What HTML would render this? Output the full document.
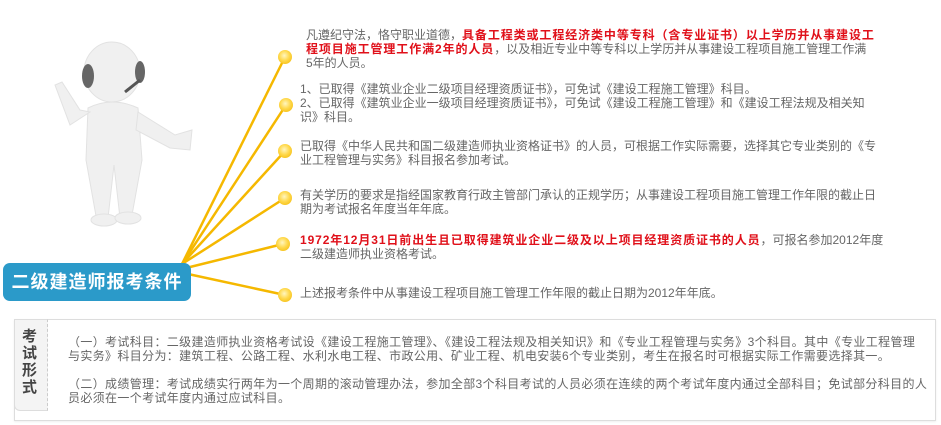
<!DOCTYPE html>
<html><head><meta charset="utf-8"><style>
body{margin:0;width:941px;height:425px;background:#fff;position:relative;overflow:hidden;font-family:"Liberation Sans","Noto Sans CJK SC",sans-serif;}
.t{position:absolute;font-size:12px;line-height:14px;color:#666;white-space:nowrap;letter-spacing:0;}
.r{color:#e0101a;font-weight:bold;letter-spacing:0.9px;}
.dot{position:absolute;width:14px;height:14px;border-radius:50%;background:radial-gradient(circle at 45% 40%,#fff6c0 0,#ffd84a 45%,#f0b400 100%);}
</style></head><body>
<svg width="941" height="425" style="position:absolute;left:0;top:0">
<g fill="#f0f0f0" stroke="#e2e2e2">
<ellipse cx="112" cy="72" rx="28" ry="30"/>
<path d="M88 108 Q112 96 138 108 L142 160 L132 215 L120 218 L114 165 L108 218 L96 216 L86 160 Z"/>
<path d="M90 112 L70 125 L55 85 L62 82 L80 110 Z"/>
<path d="M138 112 L175 135 L192 130 L190 150 L170 148 L136 130 Z"/>
<ellipse cx="104" cy="220" rx="13" ry="6"/><ellipse cx="128" cy="218" rx="13" ry="6"/>
</g>
<ellipse cx="88" cy="76" rx="6" ry="12" fill="#666"/><ellipse cx="140" cy="72" rx="5" ry="11" fill="#666"/>
<path d="M140 80 L125 92" stroke="#555" stroke-width="3"/>
<g stroke="#f5b800" stroke-width="2.5" fill="none">
<line x1="182" y1="264" x2="285" y2="57"/>
<line x1="182" y1="264" x2="286" y2="105"/>
<line x1="182" y1="264" x2="285" y2="151"/>
<line x1="182" y1="264" x2="285" y2="198"/>
<line x1="186" y1="268" x2="283" y2="244"/>
<line x1="188" y1="274" x2="285" y2="295"/>
</g>
</svg>
<div class="dot" style="left:278px;top:50px"></div>
<div class="dot" style="left:279px;top:98px"></div>
<div class="dot" style="left:278px;top:144px"></div>
<div class="dot" style="left:278px;top:191px"></div>
<div class="dot" style="left:276px;top:237px"></div>
<div class="dot" style="left:278px;top:288px"></div>
<div style="position:absolute;left:3px;top:263px;width:188px;height:38px;background:#2b9ac9;border-radius:7px;color:#fff;font-size:18px;font-weight:bold;line-height:38px;text-align:center;letter-spacing:1px">二级建造师报考条件</div>

<div class="t" style="left:306px;top:28px">凡遵纪守法，恪守职业道德，<span class="r">具备工程类或工程经济类中等专科（含专业证书）以上学历并从事建设工<br>程项目施工管理工作满2年的人员</span>，以及相近专业中等专科以上学历并从事建设工程项目施工管理工作满<br>5年的人员。</div>
<div class="t" style="left:300px;top:82px">1、已取得《建筑业企业二级项目经理资质证书》，可免试《建设工程施工管理》科目。<br>2、已取得《建筑业企业一级项目经理资质证书》，可免试《建设工程施工管理》和《建设工程法规及相关知<br>识》科目。</div>
<div class="t" style="left:300px;top:139px">已取得《中华人民共和国二级建造师执业资格证书》的人员，可根据工作实际需要，选择其它专业类别的《专<br>业工程管理与实务》科目报名参加考试。</div>
<div class="t" style="left:300px;top:188px">有关学历的要求是指经国家教育行政主管部门承认的正规学历；从事建设工程项目施工管理工作年限的截止日<br>期为考试报名年度当年年底。</div>
<div class="t" style="left:300px;top:233px"><span class="r">1972年12月31日前出生且已取得建筑业企业二级及以上项目经理资质证书的人员</span>，可报名参加2012年度<br>二级建造师执业资格考试。</div>
<div class="t" style="left:300px;top:286px">上述报考条件中从事建设工程项目施工管理工作年限的截止日期为2012年年底。</div>

<div style="position:absolute;left:14px;top:319px;width:920px;height:100px;border:1px solid #ddd;background:#fff;box-shadow:0 1px 2px #eee"></div>
<div style="position:absolute;left:14px;top:319px;width:32px;height:90px;background:#f4f4f4;border:1px solid #ddd;border-right:1px dashed #ccc;border-radius:0 0 0 6px"></div>
<div style="position:absolute;left:22px;top:328px;width:18px;font-size:15px;line-height:17px;font-weight:bold;color:#444">考试形式</div>
<div class="t" style="left:68px;top:335px;letter-spacing:0.35px">（一）考试科目：二级建造师执业资格考试设《建设工程施工管理》、《建设工程法规及相关知识》和《专业工程管理与实务》3个科目。其中《专业工程管理<br>与实务》科目分为：建筑工程、公路工程、水利水电工程、市政公用、矿业工程、机电安装6个专业类别，考生在报名时可根据实际工作需要选择其一。</div>
<div class="t" style="left:68px;top:377px;letter-spacing:0.35px">（二）成绩管理：考试成绩实行两年为一个周期的滚动管理办法，参加全部3个科目考试的人员必须在连续的两个考试年度内通过全部科目；免试部分科目的人<br>员必须在一个考试年度内通过应试科目。</div>
</body></html>
